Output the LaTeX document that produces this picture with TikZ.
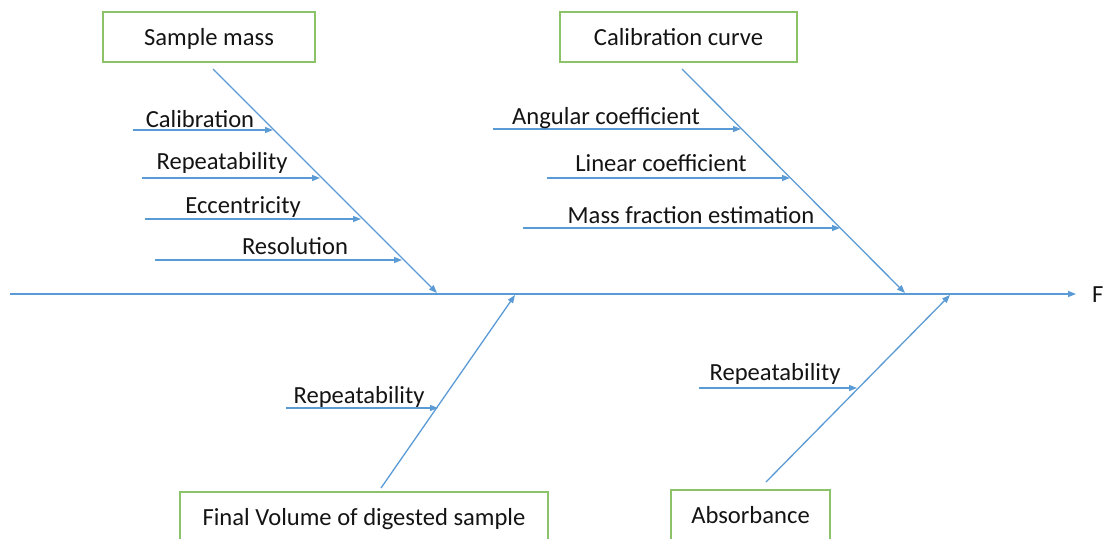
\documentclass[tikz,border=0pt]{standalone}
\usepackage{fontspec}
\setmainfont{Carlito}
\usetikzlibrary{arrows.meta}
\definecolor{bone}{RGB}{91,155,213}
\definecolor{boxgreen}{RGB}{140,195,105}
\definecolor{txt}{RGB}{20,20,20}
\begin{document}
\begin{tikzpicture}[x=1pt,y=-1pt,
  font=\fontsize{24.6}{28}\selectfont,
  line/.style={draw=bone,line width=1.3pt},
  arr/.style={line,-{Triangle[length=8pt,width=6pt]}},
  cause/.style={draw=boxgreen,line width=1.3pt,minimum height=50pt,inner sep=0pt,text height=20pt,text depth=4pt,text=txt},
  lbl/.style={anchor=base,inner sep=0pt,text=txt}]
\useasboundingbox (0,0) rectangle (1105,538);
\fill[white] (0,0) rectangle (1105,538);

% spine
\coordinate (sp0) at (10,294);
\coordinate (sp1) at (1076,294);
\draw[arr] (sp0) -- (sp1);
\node[lbl,anchor=base west] (F) at (1092,302) {F};

% cause boxes
\node[cause,minimum width=212pt] (mass) at (209,37) {Sample mass};
\node[cause,minimum width=237pt] (curve) at (678.5,37) {Calibration curve};
\node[cause,minimum width=368pt] (vol) at (364,517) {Final Volume of digested sample};
\node[cause,minimum width=159pt] (abs) at (750.5,515) {Absorbance};

% main bones
\coordinate (b1s) at (213,69);  \coordinate (b1e) at (437,293);
\coordinate (b2s) at (682,69);  \coordinate (b2e) at (905,293);
\coordinate (b3s) at (381,488); \coordinate (b3e) at (515,295);
\coordinate (b4s) at (766,482); \coordinate (b4e) at (950,295);
\draw[arr] (b1s) -- (b1e);
\draw[arr] (b2s) -- (b2e);
\draw[arr] (b3s) -- (b3e);
\draw[arr] (b4s) -- (b4e);

% Sample mass sub-causes
\coordinate (m1s) at (133,130); \coordinate (m1e) at (273,130);
\coordinate (m2s) at (142,178); \coordinate (m2e) at (320,178);
\coordinate (m3s) at (145,219); \coordinate (m3e) at (361,219);
\coordinate (m4s) at (155,260); \coordinate (m4e) at (402,260);
\draw[arr] (m1s) -- (m1e);
\draw[arr] (m2s) -- (m2e);
\draw[arr] (m3s) -- (m3e);
\draw[arr] (m4s) -- (m4e);
\node[lbl] (m1) at (200,127) {Calibration};
\node[lbl] (m2) at (222,169) {Repeatability};
\node[lbl] (m3) at (243,213) {Eccentricity};
\node[lbl] (m4) at (295,254) {Resolution};

% Calibration curve sub-causes
\coordinate (c1s) at (493,129); \coordinate (c1e) at (741,129);
\coordinate (c2s) at (547,178); \coordinate (c2e) at (790,178);
\coordinate (c3s) at (523,228); \coordinate (c3e) at (840,228);
\draw[arr] (c1s) -- (c1e);
\draw[arr] (c2s) -- (c2e);
\draw[arr] (c3s) -- (c3e);
\node[lbl] (c1) at (606,124) {Angular coefficient};
\node[lbl] (c2) at (661,171) {Linear coefficient};
\node[lbl] (c3) at (691,223) {Mass fraction estimation};

% Final volume sub-cause
\coordinate (v1s) at (286,408); \coordinate (v1e) at (438,408);
\draw[arr] (v1s) -- (v1e);
\node[lbl] (v1) at (359,403) {Repeatability};

% Absorbance sub-cause
\coordinate (a1s) at (699,388); \coordinate (a1e) at (857,388);
\draw[arr] (a1s) -- (a1e);
\node[lbl] (a1) at (775,380) {Repeatability};
\end{tikzpicture}
\end{document}
